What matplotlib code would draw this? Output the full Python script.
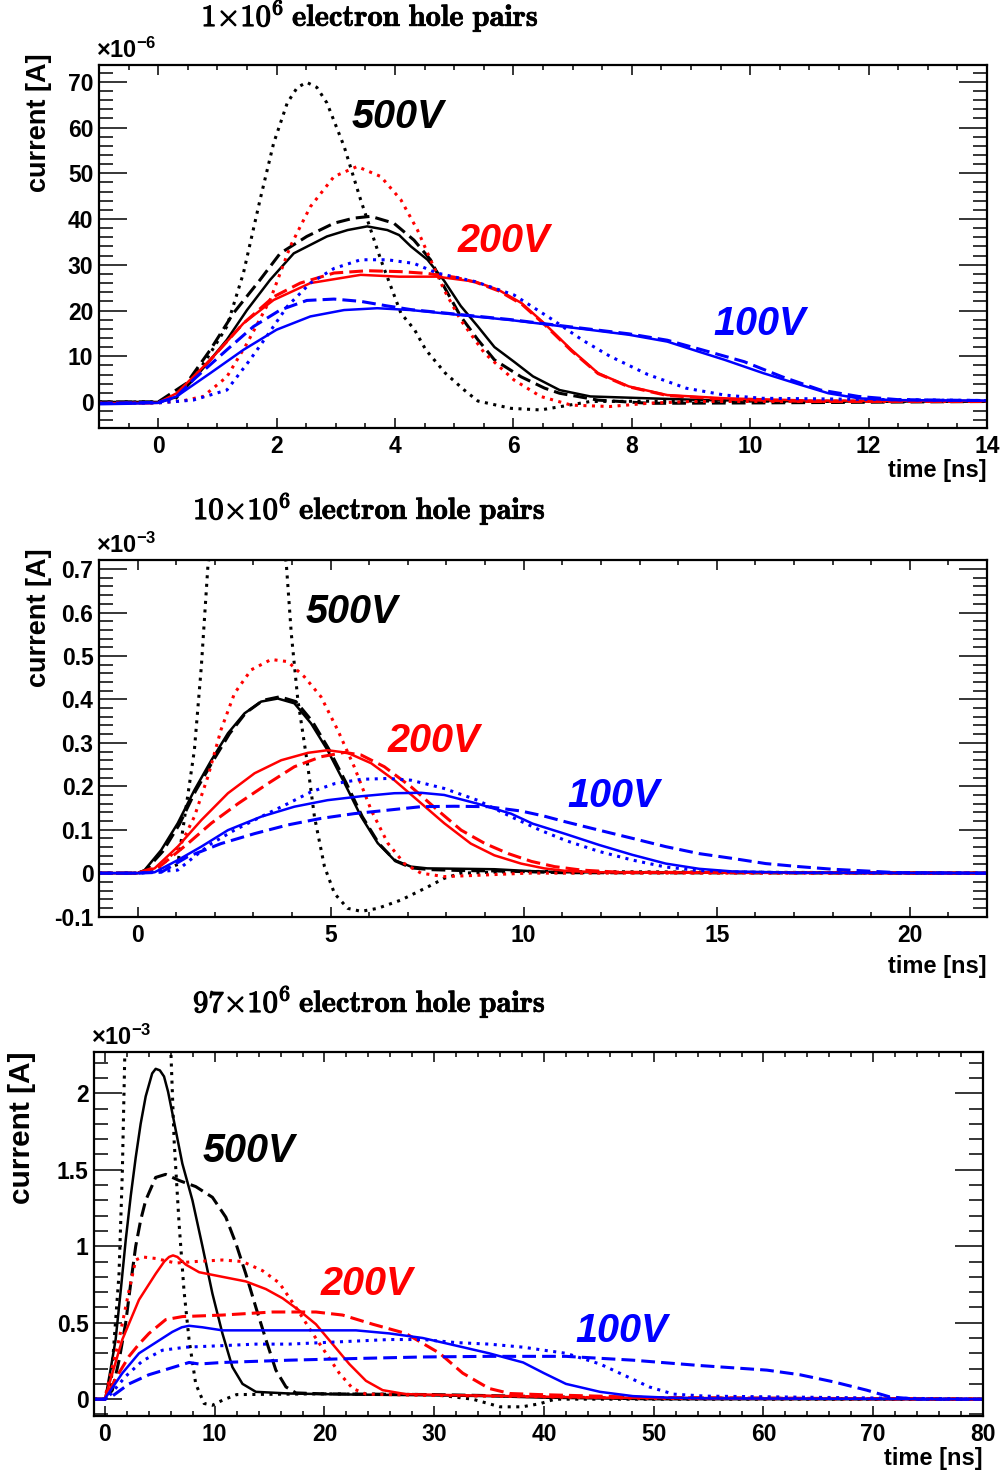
import matplotlib
matplotlib.use('Agg')
import matplotlib.pyplot as plt
import matplotlib.patheffects as pe
from matplotlib.ticker import MultipleLocator, FormatStrFormatter

plt.rcParams['font.family'] = ['Liberation Sans', 'DejaVu Sans']
plt.rcParams['font.weight'] = 'bold'
plt.rcParams['axes.unicode_minus'] = False
plt.rcParams['mathtext.fontset'] = 'custom'
plt.rcParams['mathtext.bf'] = 'Liberation Sans:bold'
plt.rcParams['mathtext.rm'] = 'Liberation Sans:bold'

# ---------- 1x10^6 e-h pairs (current in 1e-6 A, time in ns) ----------
p1_t_500_solid = [-1, 0, 0.3, 0.59, 0.9, 1.16, 1.5, 1.89, 2.29, 2.85, 3.2, 3.53, 3.87, 4.07, 4.27, 4.55,
                  4.83, 5.11, 5.4, 5.68, 6.01, 6.33, 6.78, 7.3, 8.27, 9.25, 11, 14]
p1_i_500_solid = [0, 0, 1.0, 4.8, 9.5, 13.6, 20.1, 26.7, 32.5, 36.2, 37.6, 38.4, 37.6, 36.5, 34.0, 31.1,
                  26.5, 21.0, 16.5, 12.0, 8.8, 5.6, 2.6, 1.2, 0.8, 0.4, 0.1, 0.1]
p1_t_500_dash = [-1, 0, 0.48, 0.88, 1.27, 1.72, 2.06, 2.51, 2.97, 3.3, 3.59, 3.98, 4.32, 4.6, 4.83, 5.11,
                 5.4, 5.68, 6.13, 6.53, 6.78, 7.43, 8.3, 10.3, 14]
p1_i_500_dash = [0, 0, 4.1, 11.4, 19.4, 26.7, 32.5, 36.2, 39.1, 40.2, 40.6, 39.1, 35.4, 31.1, 25.2, 18.7,
                 13.6, 9.2, 5.5, 3.0, 1.9, 0.4, -0.3, -0.2, 0.1]
p1_t_500_dot = [-1, 0, 0.3, 0.48, 0.8, 1.16, 1.44, 1.72, 1.95, 2.18, 2.35, 2.51, 2.68, 2.85, 3.14, 3.42,
                3.76, 4.1, 4.33, 4.52, 4.85, 5.17, 5.4, 5.96, 6.46, 6.85, 7.3, 9, 14]
p1_i_500_dot = [0, 0, 0.8, 3.4, 9.0, 16.5, 28.2, 44.2, 56.6, 65.4, 68.8, 69.9, 68.8, 65.4, 55.9, 44.2,
                31.1, 19.4, 15.8, 11.4, 6.3, 2.6, 0.2, -1.4, -1.75, -0.9, 0.1, 0.2, 0.1]

p1_t_200_solid = [-1, 0, 0.31, 0.88, 1.44, 1.95, 2.57, 3.42, 4.07, 4.71, 5.36, 5.75, 6.14, 6.52, 6.98,
                  7.43, 7.95, 8.6, 9.57, 11, 14]
p1_i_200_solid = [-0.3, -0.2, 1.9, 9.2, 17.2, 22.3, 26.0, 27.8, 27.4, 27.4, 26.3, 24.5, 21.6, 17.2, 11.4,
                  6.3, 3.4, 1.5, 0.8, 0.3, 0.2]
p1_t_200_dash = [-1, 0, 0.31, 0.88, 1.44, 1.95, 2.4, 2.97, 3.53, 4.1, 4.55, 5.0, 5.36, 5.75, 6.14, 6.52,
                 6.98, 7.43, 7.95, 8.6, 9.57, 11, 14]
p1_i_200_dash = [-0.3, -0.2, 1.5, 9.2, 17.2, 23.0, 26.0, 28.2, 28.7, 28.5, 28.1, 27.3, 26.2, 24.3, 21.4,
                 17.0, 11.2, 6.2, 3.3, 1.4, 0.6, 0.1, 0.1]
p1_t_200_dot = [-1, 0, 0.4, 0.76, 1.16, 1.5, 1.89, 2.23, 2.57, 2.97, 3.36, 3.76, 4.1, 4.38, 4.6, 4.83,
                5.11, 5.51, 6.01, 6.46, 6.98, 7.63, 8.27, 9, 14]
p1_i_200_dot = [-0.2, -0.2, 0.2, 1.2, 5.5, 12.8, 22.3, 34.0, 42.7, 49.3, 51.5, 49.3, 44.2, 37.6, 31.1,
                24.5, 17.9, 10.7, 4.8, 1.2, -0.7, -1.0, -0.3, 0.1, 0.1]

p1_t_100_solid = [-1, -0.54, 0, 0.31, 0.88, 1.44, 2.0, 2.57, 3.14, 3.7, 4.27, 5.11, 5.96, 6.66, 7.95,
                  8.6, 9.13, 9.57, 10.22, 10.86, 11.32, 11.83, 12.4, 14]
p1_i_100_solid = [-0.5, -0.4, -0.2, 1.2, 6.3, 11.4, 15.8, 18.7, 20.1, 20.5, 20.1, 19.0, 17.9, 16.8, 14.7,
                  13.2, 11.0, 9.2, 6.3, 3.7, 1.9, 0.8, 0.4, 0.3]
p1_t_100_dash = [-1, 0, 0.3, 0.59, 1.16, 1.61, 2.06, 2.51, 2.97, 3.42, 3.87, 4.27, 5.11, 5.96, 6.66,
                 7.95, 8.6, 9.13, 9.9, 10.54, 11.19, 11.83, 12.5, 14]
p1_i_100_dash = [-0.3, -0.1, 1.0, 4.8, 11.4, 16.5, 20.1, 22.2, 22.5, 22.0, 21.0, 20.2, 19.1, 18.0, 16.9,
                 14.9, 13.5, 11.6, 8.8, 5.5, 2.6, 1.2, 0.5, 0.3]
p1_t_100_dot = [-1, 0, 0.59, 1.16, 1.55, 1.83, 2.18, 2.57, 2.97, 3.42, 3.87, 4.32, 4.71, 5.36, 6.01,
                6.66, 7.17, 7.63, 8.27, 8.92, 9.57, 10.2, 14]
p1_i_100_dot = [-0.3, -0.2, 0.4, 2.6, 9.2, 14.3, 20.9, 26.0, 29.2, 31.1, 31.1, 30.3, 28.2, 26.3, 23.4,
                18.0, 13.5, 10.0, 6.0, 3.0, 1.5, 0.8, 0.3]

# ---------- 10x10^6 e-h pairs (current in 1e-3 A) ----------
p2_t_500_solid = [-1, 0, 0.18, 0.61, 1.04, 1.47, 1.91, 2.34, 2.77, 3.2, 3.63, 4.06, 4.49, 4.92, 5.36,
                  5.79, 6.22, 6.65, 7.08, 7.5, 8.38, 9.24, 10.1, 11, 22]
p2_i_500_solid = [0, 0, 0.007, 0.053, 0.115, 0.191, 0.26, 0.322, 0.368, 0.395, 0.402, 0.391, 0.345, 0.283,
                  0.207, 0.13, 0.069, 0.03, 0.015, 0.011, 0.01, 0.009, 0.005, 0.002, 0]
p2_t_500_dash = [-1, 0, 0.2, 0.65, 1.08, 1.5, 1.95, 2.38, 2.8, 3.25, 3.68, 4.1, 4.52, 4.95, 5.4, 5.82,
                 6.25, 6.68, 7.1, 7.6, 8.4, 9.3, 10.2, 11, 22]
p2_i_500_dash = [0, 0, 0.006, 0.05, 0.112, 0.189, 0.258, 0.321, 0.369, 0.398, 0.406, 0.395, 0.35, 0.286,
                 0.208, 0.13, 0.068, 0.028, 0.012, 0.008, 0.006, 0.005, 0.003, 0.001, 0]
p2_t_500_dot = [-1, 0, 0.6, 1.04, 1.22, 1.47, 1.65, 1.82, 2.2, 2.8, 3.4, 3.85, 3.98, 4.15, 4.41, 4.58,
                4.84, 5.1, 5.44, 5.79, 6.22, 6.82, 7.51, 7.94, 8.38, 10, 22]
p2_i_500_dot = [0, 0, 0.005, 0.02, 0.13, 0.283, 0.475, 0.706, 0.95, 1.05, 0.95, 0.714, 0.552, 0.399,
                0.245, 0.13, 0.015, -0.047, -0.081, -0.088, -0.081, -0.062, -0.032, -0.012, 0.0, 0.004, 0]

p2_t_200_solid = [-1, 0, 0.44, 1.04, 1.65, 2.34, 3.03, 3.72, 4.41, 4.92, 5.44, 6.05, 6.65, 7.25, 7.94,
                  8.63, 9.24, 9.93, 10.53, 11.1, 12, 22]
p2_i_200_solid = [0, 0, 0.011, 0.061, 0.122, 0.184, 0.23, 0.26, 0.277, 0.283, 0.277, 0.253, 0.214, 0.168,
                  0.115, 0.068, 0.041, 0.022, 0.011, 0.005, 0.002, 0]
p2_t_200_dash = [-1, 0, 0.61, 1.3, 1.91, 2.6, 3.37, 4.06, 4.75, 5.36, 5.79, 6.39, 7.08, 7.77, 8.38, 9.0,
                 9.6, 10.2, 10.8, 11.5, 12.5, 22]
p2_i_200_dash = [0, 0, 0.018, 0.068, 0.115, 0.16, 0.206, 0.245, 0.268, 0.278, 0.272, 0.245, 0.199, 0.145,
                 0.099, 0.068, 0.045, 0.027, 0.015, 0.007, 0.002, 0]
p2_t_200_dot = [-1, 0, 0.61, 1.13, 1.47, 1.82, 2.16, 2.51, 2.94, 3.46, 3.89, 4.32, 4.75, 5.18, 5.61,
                6.05, 6.48, 6.91, 7.34, 7.94, 8.8, 10.1, 22]
p2_i_200_dot = [0, 0, 0.015, 0.068, 0.13, 0.222, 0.33, 0.414, 0.468, 0.492, 0.487, 0.452, 0.406, 0.33,
                0.245, 0.145, 0.069, 0.022, 0.0, -0.008, -0.005, 0, 0]

p2_t_100_solid = [-1, 0, 0.44, 1.04, 1.65, 2.34, 3.2, 4.06, 4.92, 5.79, 6.65, 7.34, 7.94, 8.8, 9.67,
                  10.23, 11.09, 11.95, 12.82, 13.68, 14.54, 15.4, 17, 22]
p2_i_100_solid = [0, 0, 0.002, 0.03, 0.061, 0.099, 0.13, 0.153, 0.168, 0.177, 0.184, 0.185, 0.18, 0.16,
                  0.137, 0.114, 0.09, 0.065, 0.042, 0.022, 0.01, 0.004, 0.001, 0]
p2_t_100_dash = [-1, 0, 0.61, 1.3, 2.16, 3.03, 3.89, 4.75, 5.61, 6.48, 7.34, 8.2, 9.07, 9.93, 10.5,
                 11.09, 11.95, 12.82, 13.68, 14.54, 15.4, 16.27, 17.13, 18, 18.86, 19.7, 22]
p2_i_100_dash = [0, 0, 0.002, 0.038, 0.068, 0.091, 0.111, 0.126, 0.137, 0.145, 0.153, 0.154, 0.153, 0.143,
                 0.132, 0.118, 0.099, 0.08, 0.061, 0.045, 0.034, 0.022, 0.015, 0.009, 0.005, 0.001, 0]
p2_t_100_dot = [-1, 0, 1.04, 1.47, 1.91, 2.51, 3.2, 3.89, 4.49, 5.1, 5.79, 6.48, 7.08, 7.94, 8.8, 9.67,
                10.4, 11.09, 11.95, 12.82, 13.68, 14.54, 15.4, 17, 22]
p2_i_100_dot = [0, 0, 0.007, 0.038, 0.068, 0.099, 0.13, 0.16, 0.187, 0.206, 0.216, 0.218, 0.214, 0.195,
                0.168, 0.13, 0.1, 0.075, 0.05, 0.03, 0.014, 0.006, 0.003, 0.001, 0]

# ---------- 97x10^6 e-h pairs (current in 1e-3 A) ----------
p3_t_500_solid = [-1, 0, 0.06, 0.5, 0.97, 1.45, 1.89, 2.35, 2.8, 3.25, 3.71, 4.3, 4.62, 5.0, 5.38, 5.75,
                  6.14, 7.05, 7.97, 8.88, 9.79, 10.7, 11.61, 12.53, 13.75, 16.8, 22.9, 29, 35, 40, 50, 80]
p3_i_500_solid = [0, 0, 0.015, 0.19, 0.39, 0.72, 1.04, 1.33, 1.58, 1.8, 1.98, 2.13, 2.16, 2.15, 2.11, 2.01,
                  1.87, 1.54, 1.3, 1.0, 0.69, 0.43, 0.21, 0.1, 0.048, 0.037, 0.03, 0.026, 0.02, 0.01, 0, 0]
p3_t_500_dash = [-1, 0, 0.67, 1.3, 1.89, 2.35, 2.8, 3.25, 3.71, 4.62, 5.53, 6.75, 8.27, 9.79, 11.01,
                 11.92, 12.83, 13.75, 14.66, 15.57, 16.49, 17.4, 19.8, 30, 45, 80]
p3_i_500_dash = [0, 0, 0.059, 0.26, 0.5, 0.76, 1.0, 1.17, 1.3, 1.45, 1.47, 1.43, 1.39, 1.32, 1.19,
                 1.02, 0.82, 0.6, 0.39, 0.19, 0.08, 0.041, 0.035, 0.03, 0.01, 0]
p3_t_500_dot = [-1, 0, 0.5, 1.28, 1.58, 1.82, 2.5, 4, 5.5, 5.99, 6.3, 6.75, 7.2, 7.66, 8.27, 9.03,
                9.79, 10.7, 12, 20, 30, 33.5, 36, 38, 39.6, 41, 80]
p3_i_500_dot = [0, 0, 0.05, 0.82, 1.48, 2.3, 3.0, 3.3, 3.0, 2.3, 1.69, 1.15, 0.71, 0.39, 0.1, -0.028,
                -0.04, -0.007, 0.03, 0.035, 0.03, 0.0, -0.05, -0.05, -0.03, 0, 0]

p3_t_200_solid = [-1, 0, 0.06, 1.58, 3.1, 4.62, 5.4, 5.84, 6.2, 6.6, 7.36, 8.58, 10.7, 12.83, 14.66, 16.18,
                  17.7, 19.22, 20.74, 22.26, 23.78, 25.3, 27.4, 32, 45, 80]
p3_i_200_solid = [0, 0, 0.02, 0.39, 0.65, 0.82, 0.9, 0.93, 0.94, 0.93, 0.88, 0.83, 0.80, 0.77, 0.72, 0.66,
                  0.58, 0.49, 0.36, 0.23, 0.12, 0.059, 0.033, 0.026, 0.01, 0]
p3_t_200_dash = [-1, 0, 0.06, 1.1, 2.19, 3.1, 4.01, 5.53, 7.05, 10.7, 15.27, 19.22, 21.65, 24.4, 27.4,
                 30.5, 32.6, 35.0, 36.9, 39.6, 50, 80]
p3_i_200_dash = [0, 0, 0.01, 0.15, 0.28, 0.36, 0.43, 0.52, 0.54, 0.55, 0.57, 0.57, 0.55, 0.49, 0.43,
                 0.30, 0.17, 0.07, 0.037, 0.03, 0.01, 0]
p3_t_200_dot = [-1, 0, 0.06, 1.28, 2.19, 2.8, 3.41, 4.62, 6.45, 8.27, 10.7, 12.53, 14.36, 15.88, 17.4,
                18.92, 20.14, 21.35, 22.57, 23.78, 25.9, 29, 40, 50, 80]
p3_i_200_dot = [0, 0, 0.03, 0.39, 0.71, 0.91, 0.93, 0.92, 0.89, 0.90, 0.91, 0.90, 0.84, 0.76, 0.60,
                0.43, 0.30, 0.17, 0.07, 0.033, 0.03, 0.025, 0.015, 0.005, 0]

p3_t_100_solid = [-1, 0, 0.06, 1.58, 3.1, 4.62, 6.14, 7.0, 7.66, 8.88, 10.7, 13.75, 16.8, 19.83, 22.87,
                  25.9, 28.95, 31.99, 35.0, 38.1, 40, 42.0, 45.1, 48.1, 51.2, 55, 80]
p3_i_100_solid = [0, 0, 0.01, 0.17, 0.30, 0.37, 0.44, 0.47, 0.48, 0.47, 0.45, 0.45, 0.45, 0.45, 0.45,
                  0.43, 0.40, 0.35, 0.30, 0.24, 0.17, 0.10, 0.048, 0.02, 0.01, 0.005, 0]
p3_t_100_dash = [-1, 0, 0.67, 2.19, 4.01, 5.84, 7.66, 8.58, 10.7, 16.8, 22.87, 28.95, 35.0, 42.0, 48.1,
                 54.2, 60.3, 63.3, 66.4, 69.4, 71.5, 74, 80]
p3_i_100_dash = [0, 0, 0.02, 0.10, 0.16, 0.20, 0.24, 0.23, 0.24, 0.255, 0.266, 0.276, 0.28, 0.28, 0.255,
                 0.22, 0.19, 0.16, 0.113, 0.059, 0.015, 0, 0]
p3_t_100_dot = [-1, 0, 0.37, 1.89, 3.41, 5.23, 7.36, 10.7, 13.75, 16.8, 19.83, 22.87, 25.9, 28.95, 32,
                35, 38.1, 40, 42, 45.1, 47.5, 49.6, 51.8, 54.7, 80]
p3_i_100_dot = [0, 0, 0.02, 0.15, 0.25, 0.32, 0.34, 0.35, 0.36, 0.36, 0.37, 0.38, 0.39, 0.39, 0.37,
                0.36, 0.34, 0.32, 0.30, 0.23, 0.15, 0.08, 0.033, 0.02, 0]

BLACK, RED, BLUE = '#000000', '#ff0000', '#0000ff'
SOLID = dict(ls='-', lw=1.8)
DASH = dict(ls=(0, (4.5, 2.0)), lw=2.2)
DOT = dict(ls=(0, (1.0, 1.8)), lw=2.2)

W, H = 1000, 1475
fig = plt.figure(figsize=(W / 100, H / 100), dpi=100)


def px_rect(left, top, right, bottom):
    return [left / W, 1 - bottom / H, (right - left) / W, (bottom - top) / H]


def draw_panel(rect, curves, xlim, ylim, xmaj, xmin, ymaj, ymin, expo, volt_labels,
               npairs, title_y, title_split, ylab_x, ylab_top, ylab_size, xlab_y):
    ax = fig.add_axes(rect)
    for t, i, color, style in curves:
        ax.plot(t, i, color=color, **style)
    ax.set_xlim(*xlim)
    ax.set_ylim(*ylim)
    ax.xaxis.set_major_locator(MultipleLocator(xmaj))
    ax.xaxis.set_minor_locator(MultipleLocator(xmin))
    ax.yaxis.set_major_locator(MultipleLocator(ymaj))
    ax.yaxis.set_minor_locator(MultipleLocator(ymin))
    ax.xaxis.set_major_formatter(FormatStrFormatter('%g'))
    ax.yaxis.set_major_formatter(FormatStrFormatter('%g'))
    ax.tick_params(which='both', direction='in', top=True, right=True, width=1.1,
                   labelsize=16.5)
    ax.tick_params(axis='y', which='major', length=20, pad=4)
    ax.tick_params(axis='y', which='minor', length=10)
    ax.tick_params(axis='x', which='major', length=7, pad=5)
    ax.tick_params(axis='x', which='minor', length=3.6)
    for s in ax.spines.values():
        s.set_linewidth(1.6)

    for txt, color, x, y in volt_labels:
        ax.text(x, y, txt, color=color, fontsize=28.5, fontweight='bold', fontstyle='italic',
                ha='left', va='baseline')

    # axis multiplier above the top-left corner
    ax.text(-0.003, 1.006, r'$\mathbf{\times10^{' + expo + '}}$', transform=ax.transAxes,
            fontsize=17, ha='left', va='bottom')

    # panel heading in Computer Modern bold
    ty = 1 - title_y / H
    fig.text(title_split / W, ty, r'$' + npairs + r'{\times}10^{6}$', math_fontfamily='cm',
             fontsize=22, ha='right', va='baseline',
             path_effects=[pe.withStroke(linewidth=0.9, foreground='black')])
    fig.text((title_split + 8) / W, ty, r'$\mathbf{electron\ hole\ pairs}$', math_fontfamily='cm',
             fontsize=22, ha='left', va='baseline',
             path_effects=[pe.withStroke(linewidth=0.5, foreground='black')])

    fig.text(ylab_x / W, 1 - ylab_top / H, 'current [A]', rotation=90, fontsize=ylab_size,
             ha='center', va='top')
    fig.text(rect[0] + rect[2], 1 - xlab_y / H, 'time [ns]', fontsize=17, ha='right', va='center')
    return ax


draw_panel(px_rect(99, 65, 987, 428),
           [(p1_t_500_dot, p1_i_500_dot, BLACK, DOT),
            (p1_t_500_solid, p1_i_500_solid, BLACK, SOLID),
            (p1_t_500_dash, p1_i_500_dash, BLACK, DASH),
            (p1_t_200_dot, p1_i_200_dot, RED, DOT),
            (p1_t_200_solid, p1_i_200_solid, RED, SOLID),
            (p1_t_200_dash, p1_i_200_dash, RED, DASH),
            (p1_t_100_dot, p1_i_100_dot, BLUE, DOT),
            (p1_t_100_solid, p1_i_100_solid, BLUE, SOLID),
            (p1_t_100_dash, p1_i_100_dash, BLUE, DASH)],
           (-1, 14), (-5.7, 73.7), 2, 0.5, 10, 2, '-6',
           [('500V', BLACK, 3.27, 60.0), ('200V', RED, 5.05, 32.8), ('100V', BLUE, 9.37, 14.7)],
           '1', 26, 284, 39, 53, 19.5, 470)

draw_panel(px_rect(99, 560, 987, 917),
           [(p2_t_500_dot, p2_i_500_dot, BLACK, DOT),
            (p2_t_500_solid, p2_i_500_solid, BLACK, SOLID),
            (p2_t_500_dash, p2_i_500_dash, BLACK, DASH),
            (p2_t_200_dot, p2_i_200_dot, RED, DOT),
            (p2_t_200_solid, p2_i_200_solid, RED, SOLID),
            (p2_t_200_dash, p2_i_200_dash, RED, DASH),
            (p2_t_100_dot, p2_i_100_dot, BLUE, DOT),
            (p2_t_100_solid, p2_i_100_solid, BLUE, SOLID),
            (p2_t_100_dash, p2_i_100_dash, BLUE, DASH)],
           (-1, 22), (-0.101, 0.721), 5, 1, 0.1, 0.02, '-3',
           [('500V', BLACK, 4.36, 0.576), ('200V', RED, 6.48, 0.279), ('100V', BLUE, 11.13, 0.152)],
           '10', 519, 291, 39, 548, 19.5, 966)

draw_panel(px_rect(94, 1052, 983, 1416),
           [(p3_t_500_dot, p3_i_500_dot, BLACK, DOT),
            (p3_t_500_solid, p3_i_500_solid, BLACK, SOLID),
            (p3_t_500_dash, p3_i_500_dash, BLACK, DASH),
            (p3_t_200_dot, p3_i_200_dot, RED, DOT),
            (p3_t_200_solid, p3_i_200_solid, RED, SOLID),
            (p3_t_200_dash, p3_i_200_dash, RED, DASH),
            (p3_t_100_dot, p3_i_100_dot, BLUE, DOT),
            (p3_t_100_solid, p3_i_100_solid, BLUE, SOLID),
            (p3_t_100_dash, p3_i_100_dash, BLUE, DASH)],
           (-1, 80), (-0.11, 2.27), 10, 2, 0.5, 0.1, '-3',
           [('500V', BLACK, 8.88, 1.549), ('200V', RED, 19.68, 0.68), ('100V', BLUE, 42.9, 0.374)],
           '97', 1012, 291, 22, 1052, 21.5, 1458)

fig.savefig('out.png', dpi=100)
